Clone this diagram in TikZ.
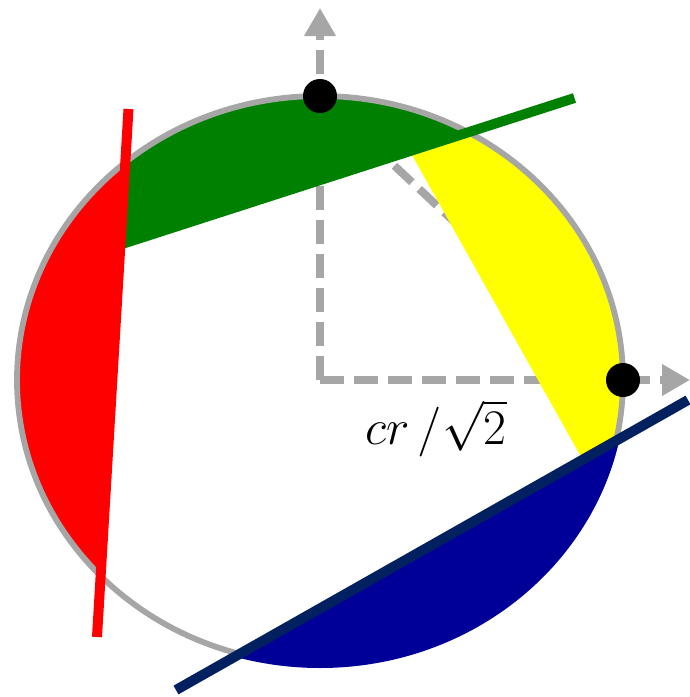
\documentclass[tikz,border=0pt]{standalone}
\usepackage{tikz}
\usepackage{xcolor}
\usetikzlibrary{arrows.meta,calc}

\definecolor{axisgray}{HTML}{A6A6A6}
\definecolor{segyellow}{HTML}{FFFF00}
\definecolor{seggreen}{HTML}{008000}
\definecolor{segblue}{HTML}{000099}
\definecolor{lineblue}{HTML}{002060}

\begin{document}
\begin{tikzpicture}[x=0.5pt, y=-0.5pt,
    axis/.style={line width=4pt, axisgray, dash pattern=on 12pt off 5pt},
    tip/.style={-{Triangle[width=15pt,length=14pt]}},
    cut/.style={line width=5pt},
    dot/.style={circle, fill=black, minimum size=17pt, inner sep=0pt}]
  \useasboundingbox (0,0) rectangle (690,697);
  % centre, axis tips and the two points on the ellipse
  \coordinate (O) at (320,380);
  \coordinate (ytip) at (320,8);
  \coordinate (xtip) at (690,380);
  \coordinate (P) at (320,96);
  \coordinate (Q) at (623,380);
  % end points of the four cutting lines
  \coordinate (g1) at (122,244);
  \coordinate (g2) at (574.5,98);
  \coordinate (r1) at (128.5,109);
  \coordinate (r2) at (97,637);
  \coordinate (y1) at (412,155);
  \coordinate (y2) at (580,455);
  \coordinate (b1) at (176,690);
  \coordinate (b2) at (688,400);

  % dashed axes
  \draw[axis, tip] (O) -- (ytip);
  \draw[axis, tip] (O) -- (xtip);
  \draw[axis] (P) -- (Q);

  % segments cut off the ellipse
  \begin{scope}
    \clip (O) ellipse [x radius=303, y radius=284];
    \fill[segyellow] ($(y1)!-1!(y2)$) -- ($(y2)!-1!(y1)$) -- (1100,755) -- (1100,-145) -- cycle;
    \fill[seggreen] ($(g1)!-1!(g2)$) -- ($(g2)!-1!(g1)$) -- (1027,-400) -- (-330,-400) -- cycle;
    \fill[red] ($(r1)!-1!(r2)$) -- ($(r2)!-1!(r1)$) -- (-400,1165) -- (-400,-419) -- cycle;
  \end{scope}
  \draw[axisgray, line width=2.9pt] (O) ellipse [x radius=303, y radius=284];
  \begin{scope}
    \clip (O) ellipse [x radius=306, y radius=288];
    \fill[segblue] ($(b1)!-1!(b2)$) -- ($(b2)!-1!(b1)$) -- (1200,1100) -- (-336,1100) -- cycle;
  \end{scope}

  % cutting lines
  \draw[cut, seggreen] (g1) -- (g2);
  \draw[cut, red] (r1) -- (r2);
  \draw[cut, lineblue] (b1) -- (b2);

  % points and label
  \node[dot] (Pdot) at (P) {};
  \node[dot] (Qdot) at (Q) {};
  \node[font=\huge] (dist) at (436,428) {\scalebox{1.2}{$cr\,/\sqrt{2}$}};
\end{tikzpicture}
\end{document}
